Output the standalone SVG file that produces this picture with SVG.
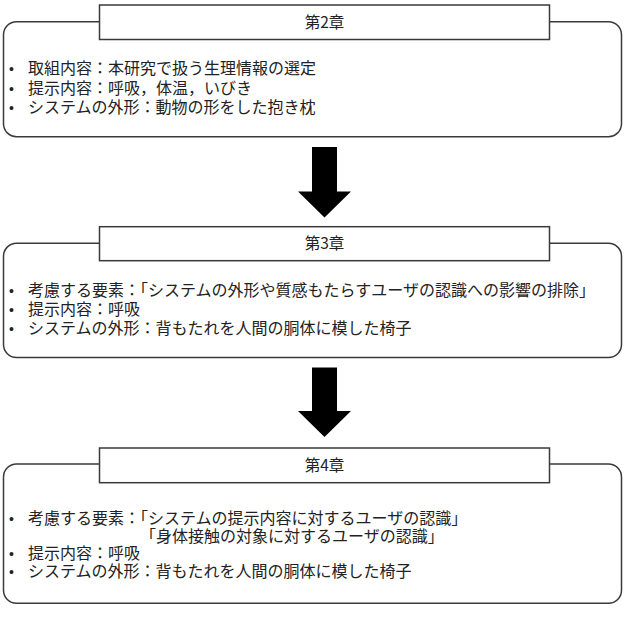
<svg xmlns="http://www.w3.org/2000/svg" width="630" height="634" viewBox="0 0 630 634">
<style>
.outer{fill:#fff;stroke:#3a3a3a;stroke-width:1.5}
.title{fill:#fff;stroke:#3a3a3a;stroke-width:1.5}
.tt{font-family:"Noto Sans CJK JP","Noto Sans",sans-serif;font-size:15.5px;fill:#222;text-anchor:middle}
.tx{font-family:"Noto Sans CJK JP","Noto Sans",sans-serif;font-size:16px;fill:#222}
.bl{font-family:"Liberation Sans",sans-serif;font-size:14px;fill:#222}
.arr{fill:#000}
</style>
<rect width="630" height="634" fill="#fff"/>
<g id="ch2">
<rect class="outer" x="3.5" y="21.7" width="618" height="115" rx="13"/>
<rect class="title" x="99.5" y="5" width="450" height="34.5"/>
<text class="tt" x="324.5" y="27.5">第2章</text>
<text class="bl" x="9" y="74">•</text><text class="tx" x="28" y="74">取組内容：本研究で扱う生理情報の選定</text>
<text class="bl" x="9" y="93.5">•</text><text class="tx" x="28" y="93.5">提示内容：呼吸，体温，いびき</text>
<text class="bl" x="9" y="113">•</text><text class="tx" x="28" y="113">システムの外形：動物の形をした抱き枕</text>
</g>
<g id="ch3">
<rect class="outer" x="3.5" y="243.3" width="618" height="114.2" rx="13"/>
<rect class="title" x="99.5" y="226.7" width="450" height="34"/>
<text class="tt" x="324.5" y="249">第3章</text>
<text class="bl" x="9" y="295.5">•</text><text class="tx" x="28" y="295.5">考慮する要素：「システムの外形や質感もたらすユーザの認識への影響の排除」</text>
<text class="bl" x="9" y="315">•</text><text class="tx" x="28" y="315">提示内容：呼吸</text>
<text class="bl" x="9" y="333.5">•</text><text class="tx" x="28" y="333.5">システムの外形：背もたれを人間の胴体に模した椅子</text>
</g>
<g id="ch4">
<rect class="outer" x="3.5" y="464" width="618" height="139.3" rx="13"/>
<rect class="title" x="99.5" y="448" width="450" height="34.7"/>
<text class="tt" x="324.5" y="470.5">第4章</text>
<text class="bl" x="9" y="524">•</text><text class="tx" x="28" y="524">考慮する要素：「システムの提示内容に対するユーザの認識」</text>
<text class="tx" x="140" y="542">「身体接触の対象に対するユーザの認識」</text>
<text class="bl" x="9" y="558.5">•</text><text class="tx" x="28" y="558.5">提示内容：呼吸</text>
<text class="bl" x="9" y="576.5">•</text><text class="tx" x="28" y="576.5">システムの外形：背もたれを人間の胴体に模した椅子</text>
</g>
<g id="connectors">
<polygon class="arr" points="312,147 337,147 337,191.5 351,191.5 324.5,217.5 298,191.5 312,191.5"/>
<polygon class="arr" points="312,367.5 337,367.5 337,411 351,411 324.5,437 298,411 312,411"/>
</g>
</svg>
